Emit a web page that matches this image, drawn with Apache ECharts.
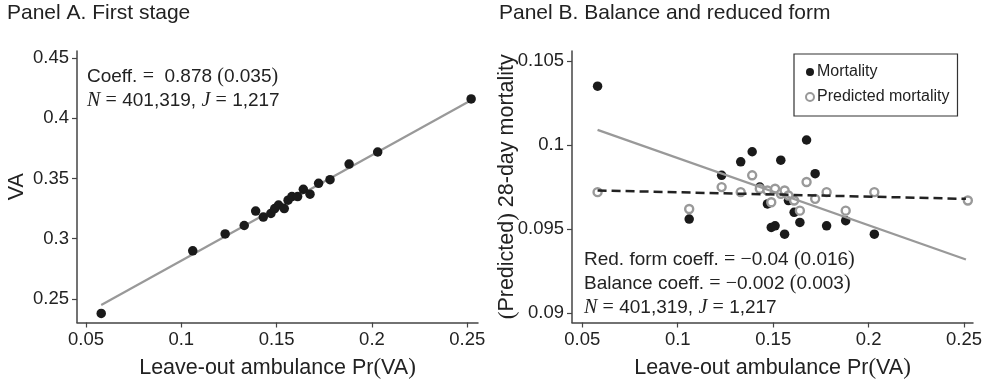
<!DOCTYPE html>
<html>
<head>
<meta charset="utf-8">
<script src="https://cdn.jsdelivr.net/npm/echarts@6/dist/echarts.min.js"></script>
<style>
html,body{margin:0;padding:0;background:#fff;}
#chart{width:987px;height:379px;}
</style>
</head>
<body>
<div id="chart"></div>
<script>
// bins of leave-out ambulance Pr(VA)
var binX = [0.058, 0.106, 0.123, 0.133, 0.139, 0.143, 0.147, 0.149, 0.151, 0.154, 0.156, 0.158, 0.161, 0.164, 0.1675, 0.172, 0.178, 0.188, 0.203, 0.252];
// panel A: share VA
var vaShare = [0.238, 0.290, 0.304, 0.311, 0.323, 0.318, 0.321, 0.325, 0.328, 0.325, 0.332, 0.335, 0.335, 0.341, 0.337, 0.346, 0.349, 0.362, 0.372, 0.416];
// panel B: mortality (last bin not visible) and predicted mortality
var mortality = [0.1035, 0.0956, 0.0982, 0.0990, 0.0996, 0.0975, 0.0965, 0.0951, 0.0952, 0.0991, 0.0947, 0.0967, 0.0960, 0.0954, 0.1003, 0.0983, 0.0952, 0.0955, 0.0947, null];
var predicted = [0.0972, 0.0962, 0.0975, 0.0972, 0.0982, 0.0974, 0.0973, 0.0966, 0.0974, 0.0971, 0.0973, 0.0970, 0.0967, 0.0961, 0.0978, 0.0968, 0.0972, 0.0961, 0.0972, 0.0967];
// fitted lines (end points)
var fitAx = [0.058, 0.252], fitAy = [0.245, 0.415];
var redFormX = [0.058, 0.251], redFormY = [0.1009, 0.0932];
var balanceX = [0.058, 0.251], balanceY = [0.0973, 0.0968];
// tick labels
var xTicks = [0.05, 0.1, 0.15, 0.2, 0.25];
var yTicksA = [0.25, 0.3, 0.35, 0.4, 0.45];
var yTicksB = [0.09, 0.095, 0.1, 0.105];

function pairs(xs, ys){
    var out = [];
    for (var i = 0; i < xs.length; i++) {
        if (ys[i] != null) out.push([xs[i], ys[i]]);
    }
    return out;
}

var FONT = '"Liberation Sans", Arial, sans-serif';
var SERIF = '"Liberation Serif", "DejaVu Serif", serif';
var TXT = '#222';
var richMath = {
    m: {fontFamily: SERIF, fontSize: 20, color: TXT, lineHeight: 24},
    i: {fontFamily: SERIF, fontStyle: 'italic', fontSize: 20, color: TXT, lineHeight: 24}
};

function axisX(idx){
    return {
        type: 'value', gridIndex: idx,
        min: idx === 0 ? 0.0453 : 0.0446,
        max: idx === 0 ? 0.2556 : 0.2547,
        name: 'Leave-out ambulance Pr{p|(}VA{p|)}',
        nameLocation: 'middle', nameGap: 34, nameMoveOverlap: false,
        nameTextStyle: {fontFamily: FONT, fontSize: 21.5, color: TXT,
            rich: {p: {fontFamily: SERIF, fontSize: 23, color: TXT}}},
        axisLine: {show: true, onZero: false, lineStyle: {color: '#444', width: 1.5}},
        axisTick: {show: true, length: 5, customValues: xTicks, lineStyle: {color: '#444', width: 1.2}},
        axisLabel: {customValues: xTicks, fontFamily: FONT, fontSize: 18.5, color: TXT, margin: 8},
        splitLine: {show: false}
    };
}

function axisY(idx, lo, hi, ticks, name, gap){
    return {
        type: 'value', gridIndex: idx, min: lo, max: hi,
        name: name, nameLocation: 'middle', nameGap: gap, nameMoveOverlap: false,
        nameTextStyle: {fontFamily: FONT, fontSize: 21.5, color: TXT,
            rich: {p: {fontFamily: SERIF, fontSize: 23, color: TXT}}},
        axisLine: {show: true, onZero: false, lineStyle: {color: '#444', width: 1.5}},
        axisTick: {show: true, length: 5, customValues: ticks, lineStyle: {color: '#444', width: 1.2}},
        axisLabel: {customValues: ticks, fontFamily: FONT, fontSize: 18.5, color: TXT, margin: 8},
        splitLine: {show: false}
    };
}

var chart = echarts.init(document.getElementById('chart'));
var option = {
    animation: false,
    backgroundColor: '#fff',
    title: [
        {text: 'Panel A. First stage', left: 7, top: 3, padding: 0,
            textStyle: {fontFamily: FONT, fontSize: 21, fontWeight: 'normal', color: TXT}},
        {text: 'Panel B. Balance and reduced form', left: 499, top: 3, padding: 0,
            textStyle: {fontFamily: FONT, fontSize: 21, fontWeight: 'normal', color: TXT}},
        {text: 'Coeff. {m|=}  0.878 {m|(}0.035{m|)}\n{i|N} {m|=} 401,319, {i|J} {m|=} 1,217',
            left: 87, top: 65, padding: 0,
            textStyle: {fontFamily: FONT, fontSize: 19, fontWeight: 'normal', color: TXT, lineHeight: 24, rich: richMath}},
        {text: 'Red. form coeff. {m|= −}0.04 {m|(}0.016{m|)}\nBalance coeff. {m|= −}0.002 {m|(}0.003{m|)}\n{i|N} {m|=} 401,319, {i|J} {m|=} 1,217',
            left: 584, top: 248, padding: 0,
            textStyle: {fontFamily: FONT, fontSize: 19, fontWeight: 'normal', color: TXT, lineHeight: 24, rich: richMath}}
    ],
    legend: {
        left: 794, top: 54, orient: 'vertical',
        padding: [10, 8, 11, 11], itemGap: 9,
        itemWidth: 8, itemHeight: 8,
        borderColor: '#333', borderWidth: 1.2,
        textStyle: {fontFamily: FONT, fontSize: 16, color: TXT, padding: [0, 0, 0, -2]},
        data: [
            {name: 'Mortality', icon: 'circle', itemStyle: {color: '#1a1a1a', borderWidth: 0}},
            {name: 'Predicted mortality', icon: 'circle', itemStyle: {color: '#fff', borderColor: '#999', borderWidth: 2}}
        ]
    },
    grid: [
        {left: 77, top: 51, width: 401, height: 271.5, outerBoundsMode: 'none', containLabel: false},
        {left: 572, top: 51, width: 401, height: 271.5, outerBoundsMode: 'none', containLabel: false}
    ],
    xAxis: [axisX(0), axisX(1)],
    yAxis: [
        axisY(0, 0.2305, 0.4558, yTicksA, 'VA', 49),
        axisY(1, 0.08945, 0.10559, yTicksB, '{p|(}Predicted{p|)} 28-day mortality', 53)
    ],
    series: [
        {type: 'line', xAxisIndex: 0, yAxisIndex: 0, data: pairs(fitAx, fitAy), showSymbol: false,
            lineStyle: {color: '#999', width: 2.2}, z: 2},
        {type: 'scatter', name: 'VA', xAxisIndex: 0, yAxisIndex: 0, data: pairs(binX, vaShare),
            symbolSize: 9.5, itemStyle: {color: '#1a1a1a', opacity: 1}, z: 3},
        {type: 'scatter', name: 'Mortality', xAxisIndex: 1, yAxisIndex: 1, data: pairs(binX, mortality),
            symbolSize: 9.5, itemStyle: {color: '#1a1a1a', opacity: 1}, z: 2},
        {type: 'scatter', name: 'Predicted mortality', xAxisIndex: 1, yAxisIndex: 1, data: pairs(binX, predicted),
            symbolSize: 8, itemStyle: {color: '#fff', borderColor: '#999', borderWidth: 2.4, opacity: 1}, z: 3},
        {type: 'line', xAxisIndex: 1, yAxisIndex: 1, data: pairs(redFormX, redFormY), showSymbol: false,
            lineStyle: {color: '#999', width: 2.2}, z: 4},
        {type: 'line', xAxisIndex: 1, yAxisIndex: 1, data: pairs(balanceX, balanceY), showSymbol: false,
            lineStyle: {color: '#222', width: 2.5, type: [9, 5]}, z: 5}
    ]
};
chart.setOption(option);
</script>
</body>
</html>
